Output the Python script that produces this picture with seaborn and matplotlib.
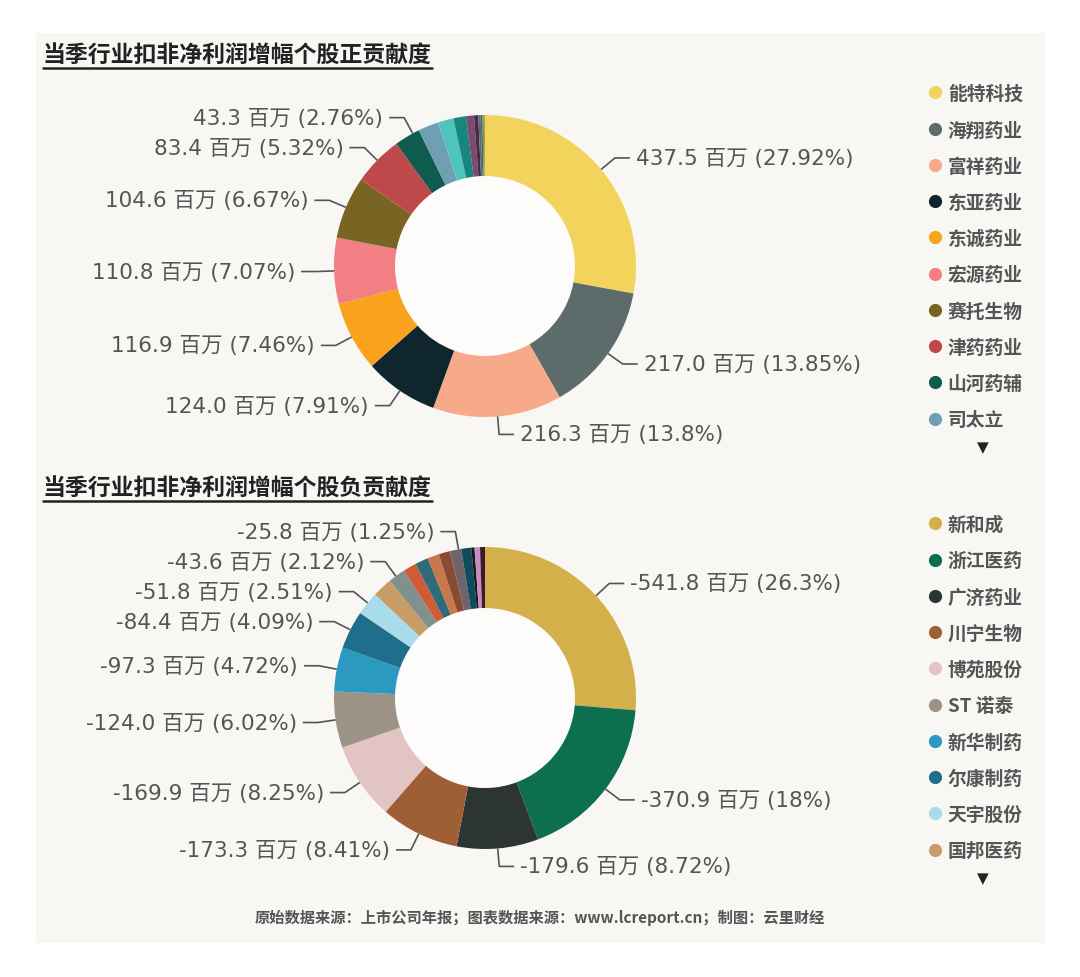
import numpy as np
import matplotlib
matplotlib.use("Agg")
import matplotlib.pyplot as plt
from matplotlib.lines import Line2D
from matplotlib.patches import Rectangle, Circle
import seaborn as sns

# ---------------- 数据 ----------------
pos_title = "当季行业扣非净利润增幅个股正贡献度"
pos_names = ["能特科技", "海翔药业", "富祥药业", "东亚药业", "东诚药业",
             "宏源药业", "赛托生物", "津药药业", "山河药辅", "司太立"]
pos_values = [437.5, 217.0, 216.3, 124.0, 116.9, 110.8, 104.6, 83.4, 43.3,
              34.5, 26.0, 21.0, 13.5, 7.0, 4.0, 3.0, 2.2, 2.0]
pos_pct = [27.92, 13.85, 13.8, 7.91, 7.46, 7.07, 6.67, 5.32, 2.76]
pos_label_idx = [0, 1, 2, 3, 4, 5, 6, 7, 8]
pos_colors = ["#f2d35b", "#5e6b6b", "#f6aa8a", "#10262f", "#f9a31c", "#f17f83",
              "#786524", "#bf484a", "#0f5b50", "#6e9fb3", "#4fc4bd", "#15877c",
              "#7b4b72", "#4a2946", "#5c6a72", "#3f6b5c", "#8e8b55", "#b49a48"]

neg_title = "当季行业扣非净利润增幅个股负贡献度"
neg_names = ["新和成", "浙江医药", "广济药业", "川宁生物", "博苑股份",
             "ST 诺泰", "新华制药", "尔康制药", "天宇股份", "国邦医药"]
neg_values = [-541.8, -370.9, -179.6, -173.3, -169.9, -124.0, -97.3, -84.4, -51.8, -43.6,
              -38.0, -29.0, -29.0, -25.8, -25.0, -25.0, -22.0, -7.0, -12.0, -10.9]
neg_pct = [26.3, 18, 8.72, 8.41, 8.25, 6.02, 4.72, 4.09, 2.51, 2.12, 1.25]
neg_label_idx = [0, 1, 2, 3, 4, 5, 6, 7, 8, 9, 13]
neg_colors = ["#d4b04b", "#0e6e50", "#2d3533", "#9f5f35", "#e3c4c4", "#9d9286",
              "#2c9ac0", "#1f6f8c", "#a9dcea", "#c89c69", "#80908e", "#cf5b37",
              "#2f6b78", "#c9774c", "#8a4b33", "#6f6568", "#0f4b5d", "#161616",
              "#c78cc1", "#3b1b2b"]

footer = "原始数据来源：上市公司年报；图表数据来源：www.lcreport.cn；制图：云里财经"

# ---------------- 样式 ----------------
W, H = 1080, 978
sns.set_theme(style="white")
plt.rcParams['font.family'] = ['DejaVu Sans', 'Noto Sans CJK SC']
CJK = ['Noto Sans CJK SC', 'DejaVu Sans']

BG = "#f9f7f4"
TXT = "#555555"
R, R_IN = 151, 90
L1, L2, PAD, MIN_GAP = 18, 15, 6, 30


def py(y):
    # 像素坐标(自上而下) -> 坐标轴 y
    return H - y


fig = plt.figure(figsize=(W / 100, H / 100), dpi=100, facecolor="white")
ax = fig.add_axes([0, 0, 1, 1])
ax.add_patch(Rectangle((36, py(944)), 1009, 910, color=BG, zorder=0, lw=0))


def draw_donut(values, colors, label_idx, pcts, cx, cy):
    cy = py(cy)
    wedges, _ = ax.pie(np.abs(values), colors=sns.color_palette(colors), startangle=90,
                       counterclock=False, radius=R, center=(cx, cy),
                       wedgeprops=dict(width=R - R_IN, linewidth=0))
    ax.add_patch(Circle((cx, cy), R_IN - 0.5, color="#fdfcfb", lw=0, zorder=2))

    prev = {"left": None, "right": None}
    for i, p in zip(label_idx, pcts):
        w = wedges[i]
        mid = np.deg2rad((w.theta1 + w.theta2) / 2)
        side = "right" if np.cos(mid) >= 0 else "left"
        ly = cy + (R + L1) * np.sin(mid)
        # 避免标签重叠: 右侧向下推, 左侧向上推
        if prev[side] is not None:
            if side == "right":
                ly = min(ly, prev[side] - MIN_GAP)
            else:
                ly = max(ly, prev[side] + MIN_GAP)
        prev[side] = ly
        sgn = 1 if side == "right" else -1
        dy = ly - cy
        bx = cx + sgn * np.sqrt(max((R + L1) ** 2 - dy ** 2, 0))
        ang = np.arctan2(ly - cy, bx - cx)
        sx, sy = cx + R * np.cos(ang), cy + R * np.sin(ang)
        ex = bx + sgn * L2
        ax.plot([sx, bx, ex], [sy, ly, ly], color=TXT, lw=1.2, zorder=3,
                solid_capstyle="butt")
        txt = f"{values[i]:.1f} 百万 ({p:g}%)"
        ax.text(ex + sgn * PAD, ly, txt, ha="left" if sgn > 0 else "right",
                va="center", fontsize=15.5, color=TXT)


def draw_title(text, x, y):
    t = ax.text(x, py(y), text, ha="left", va="center", fontsize=16.5,
                fontweight="bold", color="#222222", family=CJK)
    fig.canvas.draw()
    bb = t.get_window_extent(fig.canvas.get_renderer())
    ax.plot([bb.x0, bb.x1], [bb.y0 - 1, bb.y0 - 1], color="#222222", lw=1.8)


def draw_legend(names, colors, x, y, arrow_y):
    handles = [Line2D([], [], marker="o", linestyle="", markersize=9.5,
                      markerfacecolor=c, markeredgewidth=0) for c in colors[:len(names)]]
    fig.legend(handles, names, loc="upper left",
               bbox_to_anchor=(x / W, 1 - y / H), bbox_transform=fig.transFigure,
               frameon=False, labelcolor=TXT, borderpad=0, borderaxespad=0,
               handlelength=0.7, handletextpad=0.35, labelspacing=0.92,
               prop={"family": CJK, "weight": "bold", "size": 13.5})
    ax.text(983, py(arrow_y), "▼", ha="center", va="center", fontsize=11,
            color="#222222", family=["DejaVu Sans"])


draw_donut(pos_values, pos_colors, pos_label_idx, pos_pct, 485, 267)
draw_donut(neg_values, neg_colors, neg_label_idx, neg_pct, 485, 699)

ax.set_xlim(0, W)
ax.set_ylim(0, H)
ax.set_aspect("equal")
ax.axis("off")

draw_title(pos_title, 43, 56)
draw_title(neg_title, 43, 489)
draw_legend(pos_names, pos_colors, 928, 85, 448)
draw_legend(neg_names, neg_colors, 928, 516, 879)

ax.text(540, py(918), footer, ha="center", va="center", fontsize=11,
        fontweight="bold", color=TXT, family=CJK)

fig.savefig("out.png", dpi=100, facecolor="white")
